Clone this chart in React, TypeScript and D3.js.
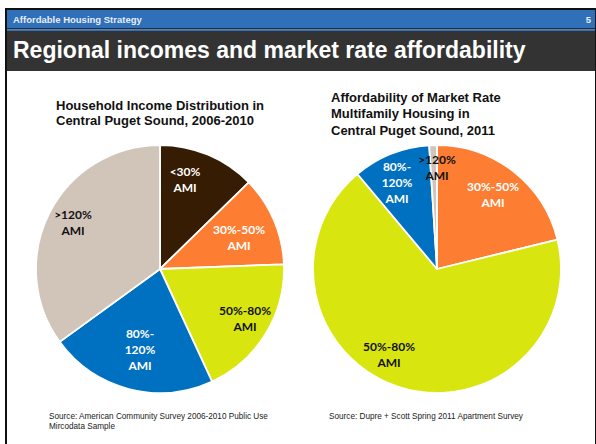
import React from "react";
import * as d3 from "d3";

const categories = ["<30% AMI", "30%-50% AMI", "50%-80% AMI", "80%-120% AMI", ">120% AMI"];
const labelLines = [["<30%", "AMI"], ["30%-50%", "AMI"], ["50%-80%", "AMI"], ["80%-", "120%", "AMI"], [">120%", "AMI"]];
const incomeShares = [12.7, 11.7, 18.7, 21.9, 35.0];
const affordShares = [0, 21.2, 67.7, 10.1, 1.0];
const colors = ["#361c02", "#fd7d32", "#d9e50f", "#0070c0", "#d1c5ba"];
const labelColors = ["#ffffff", "#ffffff", "#111111", "#ffffff", "#111111"];

const headerText = "Affordable Housing Strategy";
const pageNum = "5";
const slideTitle = "Regional incomes and market rate affordability";
const leftTitle = ["Household Income Distribution in", "Central Puget Sound, 2006-2010"];
const rightTitle = ["Affordability of Market Rate", "Multifamily Housing in", "Central Puget Sound, 2011"];
const leftSource = ["Source: American Community Survey 2006-2010 Public Use", "Mircodata Sample"];
const rightSource = ["Source: Dupre + Scott Spring 2011 Apartment Survey"];

// label offsets relative to pie center (layout)
const leftLabelPos: ([number, number] | null)[] = [[25, -89], [79, -31], [85, 49.5], [-20, 81], [-87, -46]];
const rightLabelPos: ([number, number] | null)[] = [null, [56, -74.5], [-48, 86], [-40, -86], [0, -101.5]];

const W = 596, H = 444;
const R = 124;
const titleFont = "'Liberation Sans', Arial, sans-serif";
const labelFont = "Lato, 'Open Sans', sans-serif";

function Pie({ cx, cy, values, pos }: { cx: number; cy: number; values: number[]; pos: ([number, number] | null)[] }) {
  const pie = d3.pie<number>().sort(null).value((d) => d).startAngle(0).endAngle(2 * Math.PI);
  const arcs = pie(values);
  const arc = d3.arc<d3.PieArcDatum<number>>().innerRadius(0).outerRadius(R);
  const lh = 15.8;
  const fs = 12;
  return (
    <g transform={`translate(${cx},${cy})`}>
      {arcs.map((a, i) =>
        a.value > 0 ? (
          <path key={i} d={arc(a) || ""} fill={colors[i]} stroke="#ffffff" strokeWidth={1.8} strokeLinejoin="round" />
        ) : null
      )}
      {arcs.map((a, i) => {
        const p = pos[i];
        if (!p || a.value <= 0) return null;
        const lines = labelLines[i];
        const y0 = p[1] - ((lines.length - 1) * lh) / 2;
        return (
          <text key={"l" + i} textAnchor="middle" fontFamily={labelFont} fontWeight={700} fontSize={fs} fill={labelColors[i]}>
            {lines.map((t, j) => (
              <tspan key={j} x={p[0]} y={y0 + j * lh + fs * 0.35}>
                {t}
              </tspan>
            ))}
          </text>
        );
      })}
    </g>
  );
}

export default function App() {
  return (
    <svg width={W} height={H} viewBox={`0 0 ${W} ${H}`} style={{ position: "absolute", left: 0, top: 0, background: "#ffffff" }}>
      <rect x={0} y={0} width={W} height={H} fill="#ffffff" />
      {/* frame */}
      <rect x={6} y={9} width={590} height={H} fill="#ffffff" stroke="#111111" strokeWidth={2} />
      {/* header bar */}
      <rect x={7} y={10} width={588} height={18} fill="#3070b8" />
      <rect x={7} y={28} width={588} height={1.5} fill="#1e2d44" />
      <rect x={7} y={29.5} width={588} height={1.5} fill="#3070b8" />
      <rect x={7} y={31} width={588} height={40} fill="#333333" />
      <text x={13} y={22.5} fontFamily={titleFont} fontWeight={700} fontSize={9.5} fill="#e8eef8">
        {headerText}
      </text>
      <text x={591} y={22.5} textAnchor="end" fontFamily={titleFont} fontWeight={700} fontSize={9.5} fill="#e8eef8">
        {pageNum}
      </text>
      <text x={13} y={58} fontFamily={titleFont} fontWeight={700} fontSize={23} fill="#ffffff">
        {slideTitle}
      </text>

      {/* chart titles */}
      <text fontFamily={titleFont} fontWeight={700} fontSize={13} fill="#111111">
        {leftTitle.map((t, j) => (
          <tspan key={j} x={56} y={109.5 + j * 15}>
            {t}
          </tspan>
        ))}
      </text>
      <text fontFamily={titleFont} fontWeight={700} fontSize={13} fill="#111111">
        {rightTitle.map((t, j) => (
          <tspan key={j} x={331} y={101.5 + j * 16.5}>
            {t}
          </tspan>
        ))}
      </text>

      <Pie cx={160} cy={269} values={incomeShares} pos={leftLabelPos} />
      <Pie cx={437} cy={269} values={affordShares} pos={rightLabelPos} />

      {/* sources */}
      <text fontFamily={titleFont} fontSize={8.2} fill="#222222">
        {leftSource.map((t, j) => (
          <tspan key={j} x={49} y={419 + j * 10}>
            {t}
          </tspan>
        ))}
      </text>
      <text fontFamily={titleFont} fontSize={8.2} fill="#222222">
        {rightSource.map((t, j) => (
          <tspan key={j} x={329} y={419 + j * 10}>
            {t}
          </tspan>
        ))}
      </text>
    </svg>
  );
}
